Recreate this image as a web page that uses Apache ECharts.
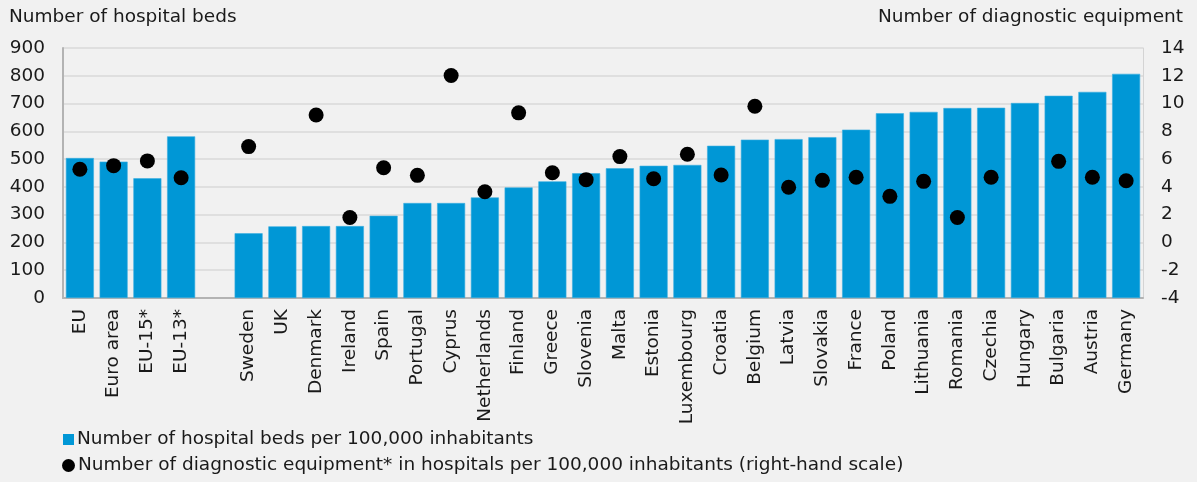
<!DOCTYPE html>
<html><head><meta charset="utf-8">
<script src="https://cdn.jsdelivr.net/npm/echarts@6/dist/echarts.min.js"></script>
<style>html,body{margin:0;padding:0;background:#f1f1f1;}#c{width:1197px;height:482px;}</style>
</head><body><div id="c"></div>
<script>
var categories = ['EU','Euro area','EU-15*','EU-13*','','Sweden','UK','Denmark','Ireland','Spain','Portugal','Cyprus','Netherlands','Finland','Greece','Slovenia','Malta','Estonia','Luxembourg','Croatia','Belgium','Latvia','Slovakia','France','Poland','Lithuania','Romania','Czechia','Hungary','Bulgaria','Austria','Germany'];
var hospitalBeds = [504,491,431,582,null,233,258,259,259,296,342,342,362,398,420,449,467,476,479,548,570,572,579,606,665,670,684,685,702,728,742,807];
var diagnosticEquipment = [5.27,5.53,5.87,4.66,null,6.90,null,9.18,1.80,5.38,4.83,12.02,3.65,9.33,5.02,4.52,6.18,4.59,6.35,4.86,9.81,3.97,4.47,4.69,3.32,4.40,1.80,4.69,null,5.84,4.69,4.44];
var leftTicks = {min:0,max:900,interval:100};
var rightTicks = {min:-4,max:14,interval:2};
var seriesNames = ['Number of hospital beds per 100,000 inhabitants','Number of diagnostic equipment* in hospitals per 100,000 inhabitants (right-hand scale)'];
var axisTitles = ['Number of hospital beds','Number of diagnostic equipment'];

var font = '"DejaVu Sans"';
var fs = 18.5;
var txt = '#1a1a1a';
var legendText = {fontFamily:font,fontSize:fs,color:txt,padding:[0,0,0,-2]};
var chart = echarts.init(document.getElementById('c'), null, {renderer:'canvas'});
chart.setOption({
  backgroundColor:'#f1f1f1',
  animation:false,
  textStyle:{fontFamily:font,color:txt},
  title:[
    {text:axisTitles[0],left:4,top:3,textStyle:{fontFamily:font,fontSize:fs,fontWeight:'normal',color:txt}},
    {text:axisTitles[1],right:9,top:3,textStyle:{fontFamily:font,fontSize:fs,fontWeight:'normal',color:txt}}
  ],
  legend:[
    {left:63,top:430,padding:0,itemWidth:11,itemHeight:11,itemStyle:{borderWidth:0},
     textStyle:legendText,data:[{name:seriesNames[0],icon:'rect'}]},
    {left:62,top:456,padding:0,itemWidth:13,itemHeight:13,itemStyle:{borderWidth:0},
     textStyle:legendText,data:[{name:seriesNames[1],icon:'circle'}]}
  ],
  grid:{left:63,right:54,top:48,bottom:184,containLabel:false},
  xAxis:{
    type:'category',data:categories,
    axisLine:{show:true,lineStyle:{color:'#b3b3b3',width:2}},
    axisTick:{show:false},
    axisLabel:{rotate:90,fontSize:fs,color:txt,margin:11,interval:0,fontFamily:font}
  },
  yAxis:[
    {type:'value',min:leftTicks.min,max:leftTicks.max,interval:leftTicks.interval,
     axisLine:{show:true,lineStyle:{color:'#b3b3b3',width:2}},axisTick:{show:false},
     axisLabel:{fontSize:fs,color:txt,margin:18,fontFamily:font},
     splitLine:{lineStyle:{color:'#d9d9d9',width:1.5}}},
    {type:'value',min:rightTicks.min,max:rightTicks.max,interval:rightTicks.interval,position:'right',
     axisLine:{show:true,lineStyle:{color:'#d4d4d4',width:1}},axisTick:{show:false},
     axisLabel:{fontSize:fs,color:txt,margin:18,fontFamily:font},
     splitLine:{show:false}}
  ],
  series:[
    {name:seriesNames[0],type:'bar',yAxisIndex:0,data:hospitalBeds,barCategoryGap:'17%',
     itemStyle:{color:'#0097d6',borderColor:'#3aaee0',borderWidth:0.6}},
    {name:seriesNames[1],type:'scatter',yAxisIndex:1,data:diagnosticEquipment,symbol:'circle',symbolSize:15,
     itemStyle:{color:'#000',opacity:1},z:5}
  ]
});
</script></body></html>
